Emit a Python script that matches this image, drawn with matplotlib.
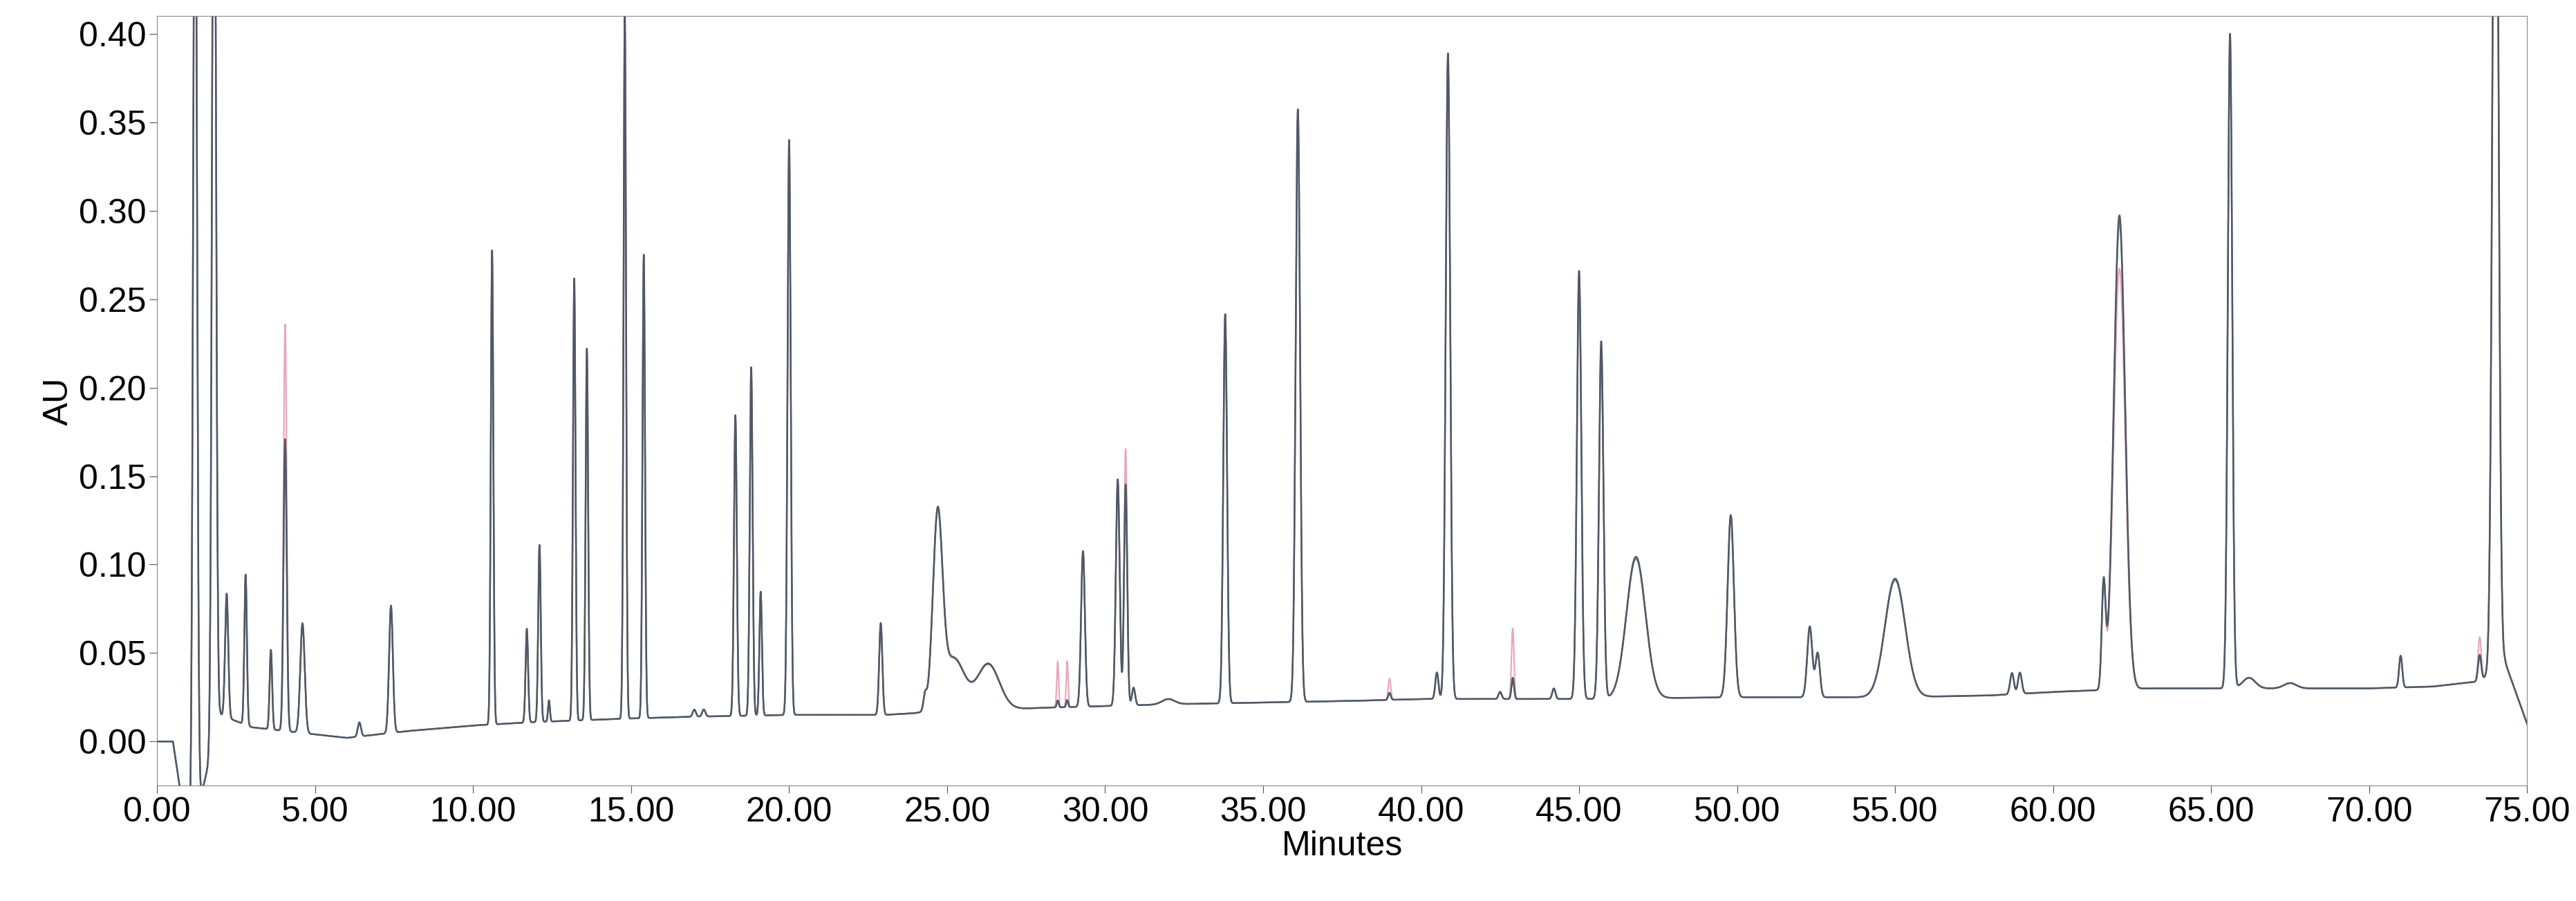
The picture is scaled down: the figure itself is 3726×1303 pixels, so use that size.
import numpy as np
import matplotlib
matplotlib.use("Agg")
import matplotlib.pyplot as plt
plt.rcParams['font.family'] = ['Liberation Sans', 'DejaVu Sans']

# baseline anchor points (minutes, AU)
base_t = [0, 0.5, 1.0, 2.0, 3.0, 5.0, 6.0, 8.0, 10.0, 12.0, 15.0, 17.0, 20.0, 23.0, 25.0, 28.0, 32.0, 35.0, 38.0, 40.0, 42.0, 45.0, 50.0, 55.0, 58.0, 60.0, 63.0, 67.0, 70.0, 72.0, 73.5, 74.3, 75.0]
base_y = [0.0, 0.0, -0.06, 0.015, 0.008, 0.004, 0.002, 0.006, 0.009, 0.011, 0.013, 0.014, 0.015, 0.015, 0.017, 0.019, 0.021, 0.022, 0.023, 0.024, 0.024, 0.024, 0.025, 0.025, 0.026, 0.028, 0.030, 0.030, 0.030, 0.031, 0.034, 0.045, 0.010]

# peak table: retention time, height (AU above baseline), width (sigma, min)
peak_t = [1.2, 1.8, 2.2, 2.8, 3.6, 4.05, 4.6, 6.4, 7.4, 10.6, 11.7, 12.1, 12.4, 13.2, 13.6, 14.8, 15.4, 17.0, 17.3,
          18.3, 18.8, 19.1, 20.0, 22.9, 24.3, 24.7, 25.2, 26.3, 28.5, 28.8, 29.3, 30.4, 30.65, 30.9, 32.0, 33.8, 36.1,
          39.0, 40.5, 40.85, 42.5, 42.9, 44.2, 45.0, 45.7, 46.8, 49.8, 52.3, 52.55, 55.0, 58.7, 58.95, 61.6, 62.1,
          65.6, 66.2, 67.5, 71.0, 73.5, 74.0]
peak_h = [0.6, 0.6, 0.07, 0.085, 0.045, 0.165, 0.062, 0.008, 0.072, 0.268, 0.053, 0.10, 0.012, 0.25, 0.21, 0.40, 0.262, 0.004, 0.004,
          0.17, 0.197, 0.07, 0.325, 0.052, 0.008, 0.105, 0.030, 0.026, 0.004, 0.004, 0.088, 0.128, 0.125, 0.01, 0.003, 0.22, 0.335,
          0.004, 0.015, 0.365, 0.004, 0.012, 0.006, 0.242, 0.202, 0.080, 0.103, 0.04, 0.025, 0.067, 0.012, 0.012, 0.058, 0.268,
          0.37, 0.006, 0.003, 0.018, 0.015, 0.6]
peak_w = [0.06, 0.06, 0.05, 0.04, 0.04, 0.05, 0.07, 0.05, 0.06, 0.04, 0.04, 0.04, 0.03, 0.04, 0.04, 0.04, 0.04, 0.05, 0.05,
          0.045, 0.045, 0.04, 0.05, 0.05, 0.05, 0.15, 0.35, 0.35, 0.03, 0.03, 0.06, 0.06, 0.05, 0.05, 0.2, 0.06, 0.07,
          0.04, 0.05, 0.07, 0.05, 0.04, 0.05, 0.07, 0.07, 0.30, 0.10, 0.08, 0.07, 0.32, 0.06, 0.06, 0.06, 0.18,
          0.07, 0.2, 0.2, 0.05, 0.05, 0.09]
# second injection (pink) height differences by peak index
pink_extra = {5: 0.065, 28: 0.022, 29: 0.022, 41: 0.028, 53: -0.03, 37: 0.008, 32: 0.02, 58: 0.01}

t = np.linspace(0, 75, 30000)
base = np.interp(t, base_t, base_y)

def trace(heights):
    y = base.copy()
    for c, h, w in zip(peak_t, heights, peak_w):
        y += h * np.exp(-0.5 * ((t - c) / w) ** 2)
    return y

h_main = np.array(peak_h)
h_pink = h_main.copy()
for k, v in pink_extra.items():
    h_pink[k] += v
h_green = h_main * 0.985

fig = plt.figure(figsize=(37.26, 13.03), dpi=100)
ax = fig.add_axes([0.061, 0.128, 0.92, 0.854])
ax.plot(t, trace(h_pink), color="#e8a8b8", lw=1.6)
ax.plot(t, trace(h_green), color="#6f9a80", lw=1.6)
ax.plot(t, trace(h_main), color="#505868", lw=1.8)
ax.set_xlim(0, 75)
ax.set_ylim(-0.025, 0.41)
ax.set_xticks(np.arange(0, 76, 5))
ax.set_xticklabels([f"{v:.2f}" for v in np.arange(0, 76, 5)])
ax.set_yticks(np.arange(0, 0.41, 0.05))
ax.set_yticklabels([f"{v:.2f}" for v in np.arange(0, 0.41, 0.05)])
ax.tick_params(labelsize=36, length=8, color="#555555")
ax.set_xlabel("Minutes", fontsize=36, labelpad=2)
ax.set_ylabel("AU", fontsize=36)
for s in ax.spines.values():
    s.set_color("#888888")
fig.savefig("out.png", dpi=100)
